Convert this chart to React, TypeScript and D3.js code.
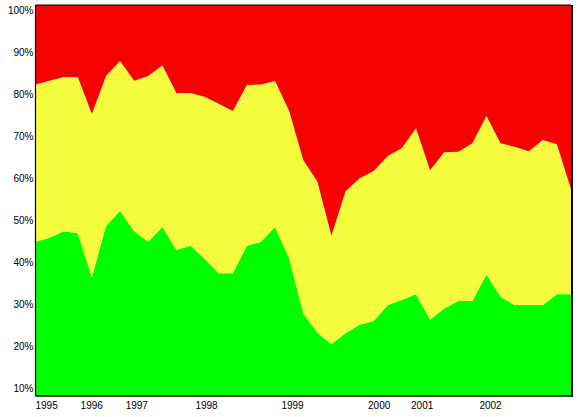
import React from "react";
import * as d3 from "d3";

// Share of each band per observation (percent), 39 evenly spaced observations
const green = [44.9,45.8,47.4,46.9,36.4,48.6,52.2,47.4,44.9,48.4,42.9,43.9,40.8,37.4,37.4,43.9,44.9,48.4,40.9,27.8,23.2,20.5,23.1,25.1,26.0,29.8,31.0,32.4,26.3,29.0,30.8,30.8,37.1,31.8,29.8,29.8,29.8,32.4,32.4];
const yellow = [37.4,37.4,36.7,37.2,38.9,35.7,35.7,35.8,39.4,38.5,37.4,36.4,38.6,40.3,38.6,38.3,37.4,34.7,35.1,36.5,36.0,25.8,33.8,34.9,35.7,35.5,36.2,39.5,35.6,37.2,35.5,37.5,37.7,36.5,37.7,36.6,39.3,35.7,24.9];
const red = [17.7,16.8,15.9,15.9,24.7,15.7,12.1,16.8,15.7,13.1,19.7,19.7,20.6,22.3,24.0,17.8,17.7,16.9,24.0,35.7,40.8,53.7,43.1,40.0,38.3,34.7,32.8,28.1,38.1,33.8,33.7,31.7,25.2,31.7,32.5,33.6,30.9,31.9,42.7];

const yearLabels = ["1995","1996","1997","1998","1999","2000","2001","2002"];
const yearTickPos = [0, 3.2, 6.4, 11.35, 17.45, 23.6, 26.65, 31.5];
const yTicks = [10,20,30,40,50,60,70,80,90,100];

const seriesKeys = ["green","yellow","red"];
const seriesColors = ["#00ff00", "#f5fc3d", "#f80000"];

export default function App() {
  const W = 581, H = 417;
  const plotLeft = 35.5, plotRight = 571, plotTop = 5, plotBottom = 396;

  const rows = green.map((g, i) => ({ i, green: g, yellow: yellow[i], red: red[i] }));
  const stack = d3.stack<any>().keys(seriesKeys);
  const layers = stack(rows);

  const x = d3.scaleLinear().domain([0, green.length - 1]).range([plotLeft, plotRight]);
  const y = d3.scaleLinear().domain([10, 100]).range([388.3, 10.1]);

  const font = "'Liberation Sans', Arial, sans-serif";

  return (
    <svg width={W} height={H} style={{ position: "absolute", left: 0, top: 0, background: "#fff" }}>
      <defs>
        <clipPath id="plotclip">
          <rect x={plotLeft} y={plotTop} width={plotRight - plotLeft} height={plotBottom - plotTop} />
        </clipPath>
      </defs>
      <g clipPath="url(#plotclip)">
        {layers.map((layer, li) => {
          const area = d3.area<any>()
            .x((d) => x(d.data.i))
            .y0((d) => (li === 0 ? plotBottom : y(d[0])))
            .y1((d) => (li === layers.length - 1 ? plotTop : y(d[1])));
          return <path key={layer.key} d={area(layer) || ""} fill={seriesColors[li]} stroke="none" />;
        })}
      </g>
      {/* frame */}
      <line x1={plotLeft} y1={plotTop} x2={plotRight} y2={plotTop} stroke="#000" strokeWidth={1} />
      <line x1={plotLeft} y1={plotTop} x2={plotLeft} y2={plotBottom} stroke="#000" strokeWidth={1.2} />
      <line x1={plotRight + 1} y1={plotTop} x2={plotRight + 1} y2={plotBottom + 0.5} stroke="#000" strokeWidth={2} />
      <line x1={plotLeft} y1={plotBottom} x2={plotRight + 2} y2={plotBottom} stroke="#000" strokeWidth={1.5} />
      {/* y labels */}
      {yTicks.map((t) => (
        <text key={t} x={33.5} y={y(t)} dy="0.36em" textAnchor="end" fontFamily={font} fontSize={10} fill="#000">
          {t}%
        </text>
      ))}
      {/* x labels */}
      {yearLabels.map((lab, k) => (
        <text key={lab} x={x(yearTickPos[k])} y={409} fontFamily={font} fontSize={10} fill="#000">
          {lab}
        </text>
      ))}
    </svg>
  );
}
